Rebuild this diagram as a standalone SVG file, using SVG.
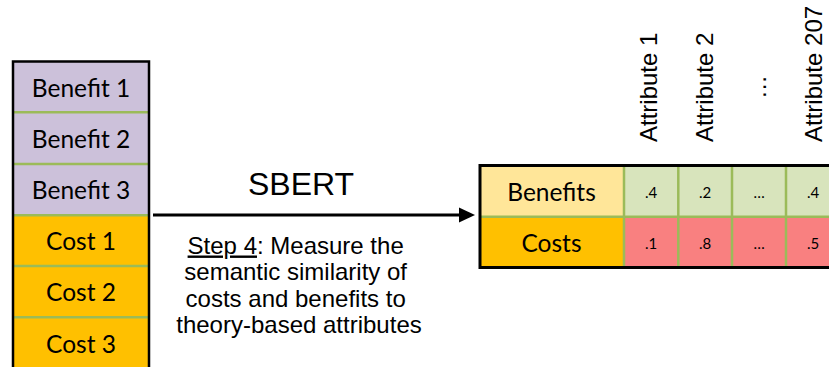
<svg xmlns="http://www.w3.org/2000/svg" width="829" height="367" viewBox="0 0 829 367">
<style>
.lbl{font-family:Lato,"Open Sans",sans-serif;font-size:24.5px;fill:#000;text-anchor:middle}
.val{font-family:Lato,"Open Sans",sans-serif;font-size:15px;fill:#000;text-anchor:middle}
.ar{font-family:"Liberation Sans",Arial,sans-serif;fill:#000}
.div{stroke:#9BBB59;stroke-width:2.5}
.ben{fill:#CCC1DA}
.cost{fill:#FFC000}
</style>
<g id="left-column">
<rect x="13" y="61.5" width="136" height="51" class="ben"/>
<rect x="13" y="112.5" width="136" height="51.5" class="ben"/>
<rect x="13" y="164" width="136" height="51" class="ben"/>
<rect x="13" y="215" width="136" height="51" class="cost"/>
<rect x="13" y="266" width="136" height="51" class="cost"/>
<rect x="13" y="317" width="136" height="52" class="cost"/>
<line x1="13" y1="112.3" x2="149" y2="112.3" class="div"/>
<line x1="13" y1="164" x2="149" y2="164" class="div"/>
<line x1="13" y1="215.3" x2="149" y2="215.3" class="div"/>
<line x1="13" y1="266" x2="149" y2="266" class="div"/>
<line x1="13" y1="317.3" x2="149" y2="317.3" class="div"/>
<rect x="13" y="61.5" width="136" height="310" fill="none" stroke="#000" stroke-width="2.5"/>
<text x="81" y="96.5" class="lbl">Benefit 1</text>
<text x="81" y="147.5" class="lbl">Benefit 2</text>
<text x="81" y="199" class="lbl">Benefit 3</text>
<text x="81" y="250" class="lbl">Cost 1</text>
<text x="81" y="301" class="lbl">Cost 2</text>
<text x="81" y="352.5" class="lbl">Cost 3</text>
</g>
<g id="connectors">
<line x1="153" y1="215" x2="460" y2="215" stroke="#000" stroke-width="3"/>
<polygon points="459,207.5 475,215 459,222.5" fill="#000"/>
</g>
<g id="sbert-label">
<text x="301" y="195" class="ar" font-size="32" text-anchor="middle">SBERT</text>
<text class="ar" font-size="24" text-anchor="middle">
<tspan x="299" y="253.5"><tspan text-decoration="underline">Step 4</tspan>: Measure the</tspan>
<tspan x="299" y="280">semantic similarity of</tspan>
<tspan x="299" y="306.5">costs and benefits to</tspan>
<tspan x="299" y="333">theory-based attributes</tspan>
</text>
</g>
<g id="attributes">
<text class="ar" font-size="24" transform="translate(657,142) rotate(-90)">Attribute 1</text>
<text class="ar" font-size="24" transform="translate(713,142) rotate(-90)">Attribute 2</text>
<text class="ar" font-size="24" transform="translate(766,99) rotate(-90)">…</text>
<text class="ar" font-size="24" transform="translate(822,142) rotate(-90)">Attribute 207</text>
</g>
<g id="matrix">
<rect x="480" y="166" width="144" height="50.7" fill="#FFE699"/>
<rect x="480" y="216.7" width="144" height="50.6" fill="#FFC000"/>
<rect x="624" y="166" width="220" height="50.7" fill="#D8E4BC"/>
<rect x="624" y="216.7" width="220" height="50.6" fill="#F98080"/>
<line x1="480" y1="216.7" x2="845" y2="216.7" class="div"/>
<line x1="624" y1="166" x2="624" y2="267" class="div"/>
<line x1="678.3" y1="166" x2="678.3" y2="267" class="div"/>
<line x1="732" y1="166" x2="732" y2="267" class="div"/>
<line x1="786" y1="166" x2="786" y2="267" class="div"/>
<rect x="480" y="165.5" width="380" height="102" fill="none" stroke="#000" stroke-width="3"/>
<text x="551.5" y="200.5" class="lbl">Benefits</text>
<text x="551.5" y="251.5" class="lbl">Costs</text>
<text x="651" y="197.5" class="val">.4</text>
<text x="705" y="197.5" class="val">.2</text>
<text x="759" y="197.5" class="val">…</text>
<text x="813" y="197.5" class="val">.4</text>
<text x="651" y="248.5" class="val">.1</text>
<text x="705" y="248.5" class="val">.8</text>
<text x="759" y="248.5" class="val">…</text>
<text x="813" y="248.5" class="val">.5</text>
</g>
</svg>
